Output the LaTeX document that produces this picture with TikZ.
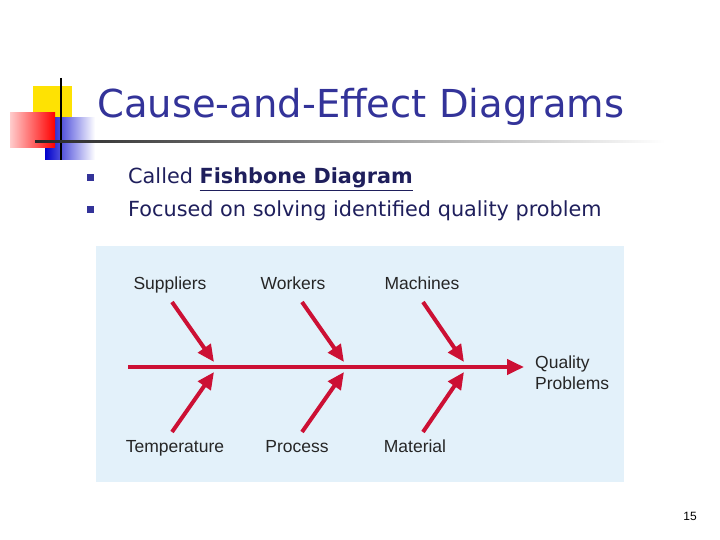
\documentclass[tikz,border=0pt]{standalone}
\usepackage{fontspec}
\setmainfont{Liberation Sans}
\newfontfamily\slidefont{DejaVu Sans}
\usetikzlibrary{arrows.meta,positioning}
\definecolor{navy}{RGB}{51,51,153}
\definecolor{bone}{RGB}{204,16,52}
\definecolor{panel}{RGB}{227,241,250}
\begin{document}
\begin{tikzpicture}[x=1pt,y=-1pt,
    bonearrow/.style={draw=bone, line width=4pt, -{Triangle[length=17pt,width=15pt]}},
    cause/.style={font=\fontsize{17.5}{20}\selectfont, text=black!85, anchor=base},
    bullet/.style={fill=navy, minimum size=7pt, inner sep=0pt}
]
\useasboundingbox (0,0) rectangle (720,540);
% Logo
\fill[yellow!85!orange] (33,86) rectangle (72,127);
\fill[left color=blue!80!black, right color=white] (45,118) rectangle (95,160);
\fill[left color=red!20, right color=red] (10,113) rectangle (55,148);
\draw[black, line width=1.5pt] (61,78) -- (61,160);
\shade[left color=black!85, right color=white] (35,141) rectangle (665,143);
% Title and bullets
\node[anchor=base west, text=navy, font=\slidefont\fontsize{38.5}{42}\selectfont, inner sep=0pt] (title) at (97,118) {Cause-and-Effect Diagrams};
\node[bullet] (b1) at (90,178) {};
\node[bullet] (b2) at (90,210) {};
\node[anchor=base west, inner sep=0pt, font=\slidefont\fontsize{20.8}{24}\selectfont, text=navy!60!black] (t1) at (128,184) {Called \textbf{\underline{Fishbone Diagram}}};
\node[anchor=base west, inner sep=0pt, font=\slidefont\fontsize{20.8}{24}\selectfont, text=navy!60!black] (t2) at (128,216) {Focused on solving identified quality problem};
% Diagram panel
\fill[panel] (96,246) rectangle (624,482);
\coordinate (tail) at (128,367);
\node[cause, anchor=west, align=left, inner sep=0pt] (effect) at (535,373) {Quality\\[1pt]Problems};
\coordinate (head) at (524,367);
\draw[bonearrow] (tail) -- (head);
% Causes
\foreach \name/\lx/\ly/\sx/\sy/\ex/\ey in {
    Suppliers/170/289/172/302/214/362,
    Workers/293/289/302/302/344/362,
    Machines/422/289/423/302/464/362,
    Temperature/175/452/172/432/214/372,
    Process/297/452/302/432/344/372,
    Material/415/452/423/432/464/372} {
  \node[cause] (\name) at (\lx,\ly) {\name};
  \coordinate (\name s) at (\sx,\sy);
  \coordinate (\name e) at (\ex,\ey);
  \draw[bonearrow] (\name s) -- (\name e);
}
\node[font=\fontsize{12}{14}\selectfont] (page) at (690,516) {15};
\end{tikzpicture}
\end{document}
